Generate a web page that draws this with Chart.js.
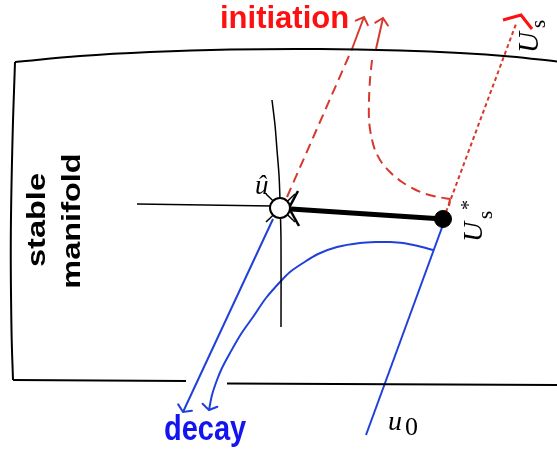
<!DOCTYPE html>
<html>
<head>
<meta charset="utf-8">
<script src="https://cdn.jsdelivr.net/npm/chart.js@4"></script>
<style>
  html, body { margin: 0; padding: 0; background: #fff; }
  #wrap { width: 557px; height: 451px; position: relative; }
</style>
</head>
<body>
<div id="wrap"><canvas id="diagram"></canvas></div>
<script>
// sketch curves, in picture units (x to the right, y downwards)
const manifoldTop = [[15,62],[80,56],[150,52],[230,49.5],[320,49],[400,50.5],[460,53],[510,56.5],[557,61.5]];
const manifoldLeft = [[15,62],[12.5,140],[10.8,240],[11.5,330],[13,380]];
const manifoldBottomL = [[13,380],[186,381]];
const manifoldBottomR = [[227,383.5],[557,385]];
const stableCurve = [[272,100],[275,125],[277,150],[279,175],[280,200],[281,240],[281,327]];
const unstableLine = [[137,204],[272,206]];
const whiskerA = [[266,194],[295,222]];
const whiskerB = [[266,222],[295,194]];
const chevron = [[298,191],[289,208],[299,226]];
const heteroclinic = [[291,209],[443,219]];
const saddlePoint = [[280,208]];
const targetPoint = [[443,219]];

const initDashA = [[287,197],[352,49]];
const initSolidA = [[352,49],[364,17]];
const initDashB = [[372,60],[370,80],[369,100],[369,120],[371,135],[375,150],[382,163],[391,173],[402,182],[414,189],[426,194],[438,197],[450,199]];
const initCornerB = [[450,199],[449,206]];
const initSolidB = [[376,49],[383,18]];
const dottedUs = [[446,212],[516,24]];
const usHat = [[503,20],[521,15],[532,29]];

const decayA = [[273,219],[183,412]];
const decayB = [[433,250],[418,246],[403,243],[390,242],[378,242],[360,243],[337,247],[318,254],[303,263],[290,272],[280,282],[266,298],[253,317],[241,334],[230,353],[222,368],[217,380],[212,395],[209,410]];
const orbitU0 = [[444,222],[366,435]];

const RED = '#d6382c', BRIGHT = '#ff1010', BLUE = '#1f40da', INK = '#000';

const line = (pts, color, width, extra) => Object.assign({
    data: pts.map(p => ({x: p[0], y: p[1]})),
    showLine: true, borderColor: color, borderWidth: width,
    pointRadius: 0, fill: false, tension: 0
}, extra || {});

// arrow heads at the last point of flagged datasets
const arrowHeads = {
    id: 'arrowHeads',
    afterDatasetsDraw(chart) {
        const ctx = chart.ctx, sx = chart.scales.x, sy = chart.scales.y;
        chart.data.datasets.forEach(ds => {
            if (!ds.arrow) return;
            const n = ds.data.length;
            const a = ds.data[n - 2], b = ds.data[n - 1];
            const x0 = sx.getPixelForValue(a.x), y0 = sy.getPixelForValue(a.y);
            const x1 = sx.getPixelForValue(b.x), y1 = sy.getPixelForValue(b.y);
            const ang = Math.atan2(y1 - y0, x1 - x0);
            const len = ds.arrow.len, sp = ds.arrow.spread;
            ctx.save();
            ctx.strokeStyle = ds.borderColor;
            ctx.lineWidth = ds.borderWidth;
            ctx.lineCap = 'round';
            ctx.beginPath();
            ctx.moveTo(x1 - len * Math.cos(ang - sp), y1 - len * Math.sin(ang - sp));
            ctx.lineTo(x1, y1);
            ctx.lineTo(x1 - len * Math.cos(ang + sp), y1 - len * Math.sin(ang + sp));
            ctx.stroke();
            ctx.restore();
        });
    }
};

// text labels
const labels = {
    id: 'labels',
    afterDraw(chart) {
        const ctx = chart.ctx;
        const put = (txt, x, y, font, color, opts) => {
            opts = opts || {};
            ctx.save();
            ctx.translate(x, y);
            if (opts.rot) ctx.rotate(opts.rot);
            ctx.scale(opts.sx || 1, opts.sy || 1);
            ctx.font = font;
            ctx.fillStyle = color;
            ctx.textAlign = opts.align || 'left';
            ctx.textBaseline = 'alphabetic';
            ctx.fillText(txt, 0, 0);
            ctx.restore();
        };
        const up = -Math.PI / 2;
        put('initiation', 220, 28, 'bold 31px "Liberation Sans", Arial, sans-serif', BRIGHT);
        put('decay', 164, 440, 'bold 29px "Liberation Sans", Arial, sans-serif', '#1414f0', {sy: 1.2});
        put('stable', 45, 220, 'bold 25px "Liberation Sans", Arial, sans-serif', INK, {rot: up, sx: 1.3, align: 'center'});
        put('manifold', 80, 221, 'bold 25px "Liberation Sans", Arial, sans-serif', INK, {rot: up, sx: 1.3, align: 'center'});
        put('\u00fb', 255, 194, 'italic 27px "Liberation Serif", serif', INK);
        put('u', 388, 430, 'italic 28px "Liberation Serif", serif', INK);
        put('0', 405, 435, '26px "Liberation Serif", serif', INK);

        // U*_s next to the target point (rotated)
        ctx.save();
        ctx.translate(482, 242);
        ctx.rotate(up);
        ctx.fillStyle = INK;
        ctx.font = 'italic 28px "Liberation Serif", serif';
        ctx.fillText('U', 0, 0);
        ctx.font = '21px "Liberation Serif", serif';
        ctx.fillText('s', 23, 10);
        ctx.font = '20px "Liberation Serif", serif';
        ctx.fillText('*', 32, -7);
        ctx.restore();

        // U_s at the top right (rotated)
        ctx.save();
        ctx.translate(538, 53);
        ctx.rotate(up);
        ctx.fillStyle = INK;
        ctx.font = 'italic 29px "Liberation Serif", serif';
        ctx.fillText('U', 0, 0);
        ctx.font = '21px "Liberation Serif", serif';
        ctx.fillText('s', 25, 7);
        ctx.restore();
    }
};

new Chart(document.getElementById('diagram'), {
    type: 'scatter',
    data: {
        datasets: [
            line(saddlePoint, INK, 2, {showLine: false, pointRadius: 10, pointBackgroundColor: '#fff', pointBorderColor: INK, pointBorderWidth: 2}),
            line(targetPoint, INK, 1, {showLine: false, pointRadius: 8.5, pointBackgroundColor: INK, pointBorderColor: INK}),
            line(chevron, INK, 2.5),
            line(heteroclinic, INK, 5),
            line(whiskerA, INK, 1.5),
            line(whiskerB, INK, 1.5),
            line(stableCurve, INK, 1.5, {tension: 0.3}),
            line(unstableLine, INK, 1.5),
            line(manifoldTop, INK, 2, {tension: 0.4}),
            line(manifoldLeft, INK, 2, {tension: 0.4}),
            line(manifoldBottomL, INK, 2),
            line(manifoldBottomR, INK, 2),
            line(initDashA, RED, 2, {borderDash: [10, 6]}),
            line(initSolidA, RED, 2, {arrow: {len: 9, spread: 0.8}}),
            line(initDashB, RED, 2, {borderDash: [10, 6], tension: 0.3}),
            line(initCornerB, RED, 2),
            line(initSolidB, RED, 2, {arrow: {len: 9, spread: 0.8}}),
            line(dottedUs, RED, 2, {borderDash: [4, 3]}),
            line(usHat, BRIGHT, 3),
            line(decayA, BLUE, 2, {arrow: {len: 9, spread: 1.0}}),
            line(decayB, BLUE, 2, {tension: 0.3, arrow: {len: 9, spread: 1.0}}),
            line(orbitU0, BLUE, 2)
        ]
    },
    options: {
        responsive: true,
        maintainAspectRatio: false,
        animation: false,
        devicePixelRatio: 1,
        events: [],
        layout: { padding: 0, autoPadding: false },
        scales: {
            x: { type: 'linear', min: 0, max: 557, display: false },
            y: { type: 'linear', min: 0, max: 451, reverse: true, display: false }
        },
        plugins: { legend: { display: false }, tooltip: { enabled: false } }
    },
    plugins: [arrowHeads, labels]
});
</script>
</body>
</html>
